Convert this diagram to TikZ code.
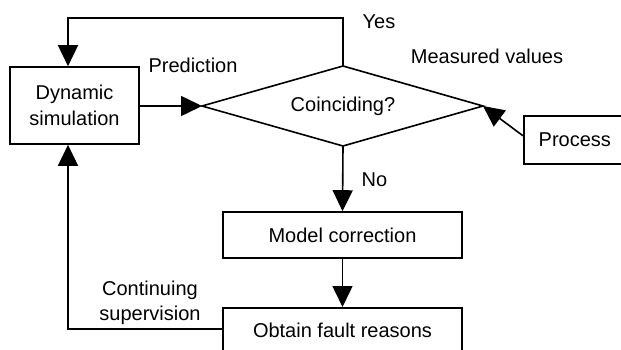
\documentclass[tikz,border=0pt]{standalone}
\usepackage{fontspec}
\setmainfont{Liberation Sans}
\usetikzlibrary{arrows.meta}
\begin{document}
\begin{tikzpicture}[x=1pt,y=-1pt,
  line width=1.6pt,
  >={Triangle[length=21pt,width=20pt]},
  every node/.style={font=\fontsize{20pt}{25.5pt}\selectfont, inner sep=0pt},
  box/.style={draw, line width=1.6pt},
  lbl/.style={align=center}]
\useasboundingbox (0,0) rectangle (621,350);
\clip (0,0) rectangle (621,350);
% nodes
\node[box, minimum width=129pt, minimum height=77pt, align=center] (sim) at (74.5,105.5) {Dynamic\\simulation};
\coordinate (dl) at (202,106);
\coordinate (dr) at (483,106);
\coordinate (dt) at (343,66);
\coordinate (db) at (343,146);
\draw (dl) -- (dt) -- (dr) -- (db) -- cycle;
\node (coin) at (343,106) {Coinciding?};
\node[box, minimum width=102pt, minimum height=48pt, anchor=north west, text width=102pt, align=center] (proc) at (523,115) {Process};
\node[box, minimum width=239pt, minimum height=46pt] (model) at (342.5,235) {Model correction};
\node[box, minimum width=239pt, minimum height=46pt, anchor=north] (fault) at (342.5,307) {Obtain fault reasons};
% helper coordinates
\coordinate (fx) at (68,0);
\coordinate (topy) at (0,18);
\coordinate (boty) at (0,329);
% connectors
\draw[->] (dt) -- (dt |- topy) -- (fx |- topy) -- (fx |- sim.north);
\draw[->] (sim.east |- dl) -- (dl);
\draw[->] ([yshift=4pt]proc.west) -- (dr);
\draw[->] (db) -- (model.north);
\draw[->] (model.south) -- (fault.north);
\draw[->] (fault.west |- boty) -- (fx |- boty) -- (fx |- sim.south);
% labels
\node[lbl] (yes) at (379,22) {Yes};
\node[lbl] (meas) at (487,56) {Measured values};
\node[lbl] (pred) at (193,65) {Prediction};
\node[lbl] (no) at (374.5,179.5) {No};
\node[lbl] (cont) at (150,303) {Continuing\\supervision};
\end{tikzpicture}
\end{document}
